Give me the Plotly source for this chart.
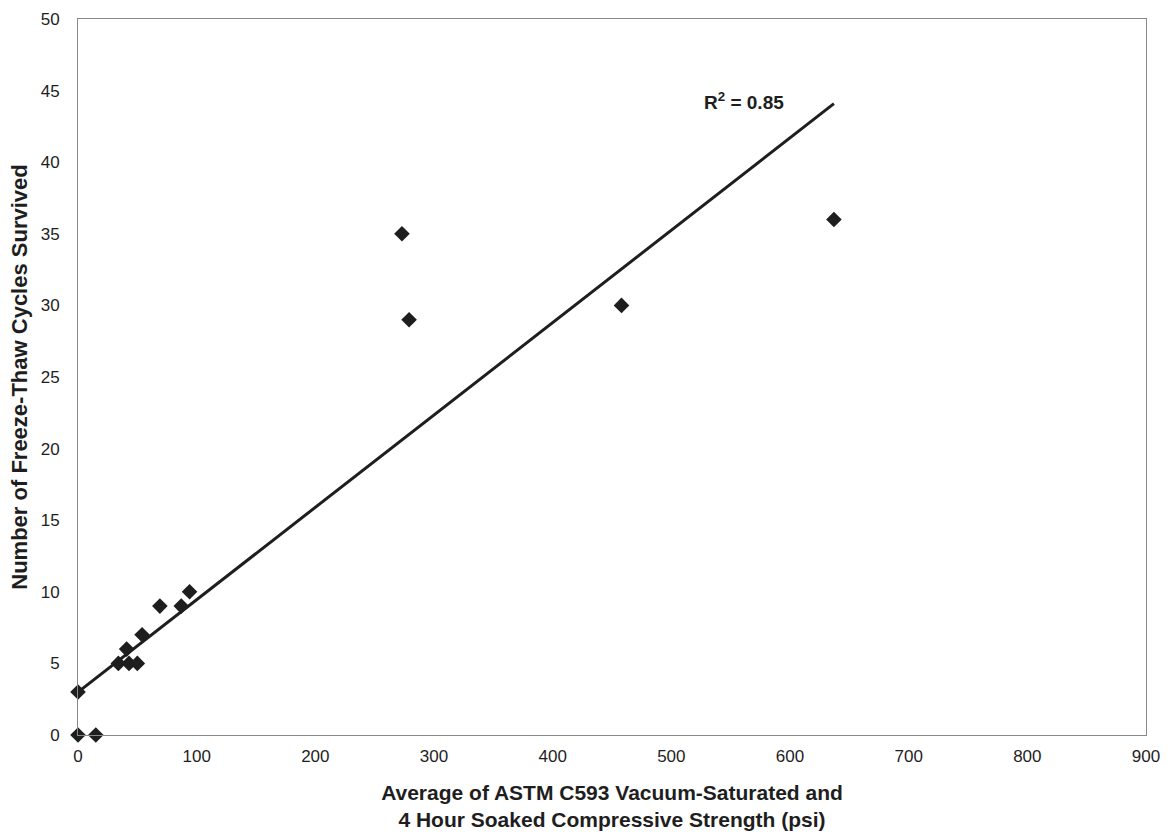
import plotly.graph_objects as go

strength_psi = [0, 15, 0, 34, 41, 43, 50, 54, 69, 87, 94, 273, 279, 458, 637]
cycles = [0, 0, 3, 5, 6, 5, 5, 7, 9, 9, 10, 35, 29, 30, 36]
x_ticks = [0, 100, 200, 300, 400, 500, 600, 700, 800, 900]
y_ticks = [0, 5, 10, 15, 20, 25, 30, 35, 40, 45, 50]

# linear trendline as drawn in the original
trend_intercept = 3.0
trend_slope = 0.0645
trend_x_end = 637

fit_x = [0, trend_x_end]
fit_y = [trend_intercept + trend_slope * v for v in fit_x]

fig = go.Figure()
fig.add_trace(go.Scatter(x=fit_x, y=fit_y, mode="lines",
                         line=dict(color="#1e1e1e", width=3), hoverinfo="skip"))
fig.add_trace(go.Scatter(x=strength_psi, y=cycles, mode="markers",
                         marker=dict(symbol="diamond", size=12, color="#1e1e1e"),
                         cliponaxis=False))

fig.add_annotation(x=561, y=44.3, text="<b>R<sup>2</sup> = 0.85</b>", showarrow=False,
                   font=dict(family="Liberation Sans, Arial", size=19, color="#1e1e1e"),
                   xanchor="center", yanchor="middle")

fig.update_layout(
    width=1175, height=837,
    margin=dict(l=78, r=29, t=19, b=102),
    paper_bgcolor="white", plot_bgcolor="white",
    showlegend=False,
    font=dict(family="Liberation Sans, Arial", color="#1e1e1e"),
    xaxis=dict(range=[0, 900], tickvals=x_ticks, ticks="", showgrid=False, zeroline=False,
               showline=True, linecolor="#888", linewidth=1, mirror=True, automargin=False,
               tickfont=dict(size=17), ticklabelstandoff=6,
               title=dict(text="<b>Average of ASTM C593 Vacuum-Saturated and<br>4 Hour Soaked Compressive Strength (psi)</b>",
                          font=dict(size=21), standoff=19)),
    yaxis=dict(range=[0, 50], tickvals=y_ticks, ticks="", showgrid=False, zeroline=False,
               showline=True, linecolor="#888", linewidth=1, mirror=True, automargin=False,
               tickfont=dict(size=17), ticklabelstandoff=14,
               title=dict(text="<b>Number of Freeze-Thaw Cycles Survived</b>",
                          font=dict(size=22), standoff=6)),
)

fig.write_html("out.html")
